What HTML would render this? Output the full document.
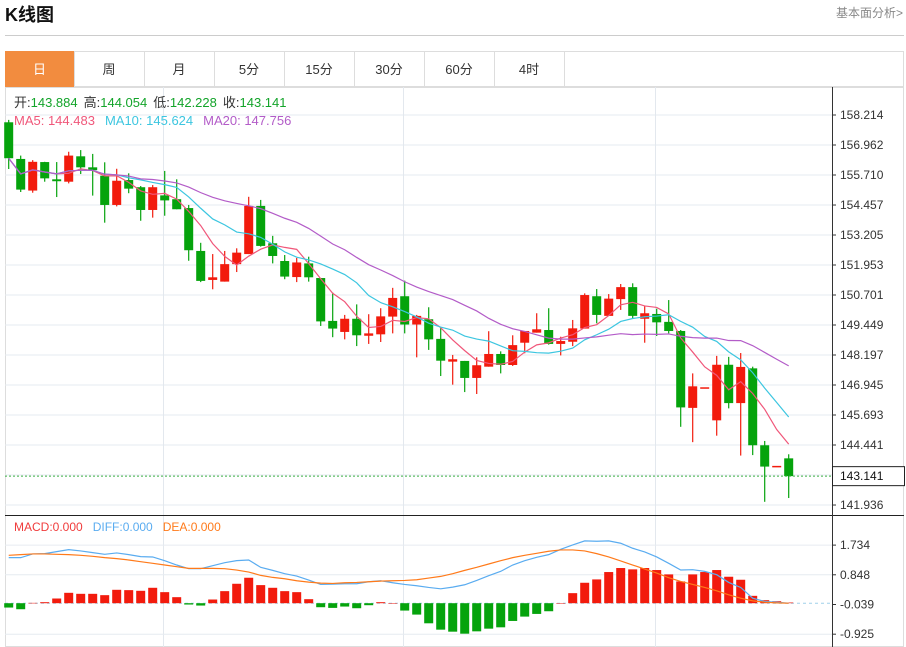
<!DOCTYPE html>
<html><head><meta charset="utf-8"><style>
body{margin:0;background:#fff;font-family:"Liberation Sans","Noto Sans CJK SC",sans-serif;}
#wrap{position:relative;width:906px;height:647px;overflow:hidden;}
svg text{font-family:"Liberation Sans","Noto Sans CJK SC",sans-serif;}
</style></head><body>
<div id="wrap">
<svg id="svg" width="906" height="647" viewBox="0 0 906 647">
<text x="5" y="21" font-size="18" font-weight="bold" fill="#111">K线图</text>
<text x="903" y="17" font-size="12" fill="#888" text-anchor="end">基本面分析&gt;</text>
<line x1="5" y1="35.5" x2="904" y2="35.5" stroke="#ccc"/>
<g id="tabs"></g>
<g id="grid"></g>
<g id="main"></g>
<g id="macd"></g>
<g id="axis"></g>
<g id="info">
<text x="14" y="107" font-size="13"><tspan fill="#333">开:</tspan><tspan fill="#13a42a">143.884</tspan><tspan fill="#333" dx="6">高:</tspan><tspan fill="#13a42a">144.054</tspan><tspan fill="#333" dx="6">低:</tspan><tspan fill="#13a42a">142.228</tspan><tspan fill="#333" dx="6">收:</tspan><tspan fill="#13a42a">143.141</tspan></text>
<text x="14" y="125" font-size="13"><tspan fill="#f0577a">MA5: 144.483</tspan><tspan fill="#3cc6e0" dx="10">MA10: 145.624</tspan><tspan fill="#b35cc8" dx="10">MA20: 147.756</tspan></text>
<text x="14" y="531" font-size="12"><tspan fill="#f03c3c">MACD:0.000</tspan><tspan fill="#5aacf0" dx="10">DIFF:0.000</tspan><tspan fill="#ff7a1a" dx="10">DEA:0.000</tspan></text>
</g>
</svg>
</div>
<script>
const opens=[157.91,156.38,155.06,156.25,155.53,155.43,156.49,156.03,155.68,154.46,155.50,155.20,154.25,154.86,154.70,154.33,152.54,151.33,151.26,151.99,152.41,154.42,152.86,152.12,151.45,152.02,151.41,149.62,149.16,149.71,149.00,149.06,149.80,150.65,149.47,149.69,148.87,147.92,147.95,147.24,147.71,148.24,147.78,148.71,149.13,149.24,148.66,148.75,149.30,150.65,149.83,150.53,151.03,149.71,149.91,149.58,149.20,145.99,146.85,145.47,147.79,146.19,147.64,144.43,143.57,143.884];
const closes=[156.41,155.10,156.26,155.57,155.45,156.52,156.03,155.91,154.46,155.47,155.14,154.25,155.20,154.65,154.28,152.57,151.29,151.44,151.99,152.47,154.42,152.75,152.33,151.47,152.06,151.44,149.60,149.30,149.71,149.02,149.10,149.81,150.58,149.47,149.83,148.85,147.96,148.02,147.24,147.77,148.24,147.78,148.61,149.20,149.27,148.66,148.78,149.31,150.70,149.87,150.55,151.03,149.83,149.94,149.56,149.20,146.01,146.89,146.85,147.79,146.19,147.70,144.43,143.54,143.57,143.141];
const highs=[158.01,156.52,156.33,156.26,156.25,156.68,156.75,156.59,156.24,155.97,155.78,155.25,155.29,155.88,155.53,154.46,152.88,152.41,152.54,152.65,154.80,154.67,153.17,152.37,152.25,152.30,151.41,150.80,149.87,150.31,149.90,150.15,151.00,151.30,149.87,150.19,149.32,148.20,147.95,148.10,149.19,148.35,149.02,149.20,149.94,150.15,148.96,149.66,150.77,150.95,150.74,151.16,151.19,150.24,150.13,150.49,149.24,147.43,146.85,148.16,148.12,148.28,147.71,144.61,143.57,144.054];
const lows=[155.96,155.00,154.97,155.43,154.79,155.36,155.75,154.85,153.72,154.40,154.95,153.80,153.93,154.01,154.28,152.13,151.24,150.94,151.26,151.66,152.41,152.72,152.02,151.36,151.24,151.26,149.41,148.94,148.85,148.57,148.66,148.74,149.10,149.10,148.10,148.41,147.32,146.96,146.65,146.57,147.71,147.43,147.74,148.27,149.13,148.63,148.18,148.57,149.30,149.52,149.83,150.08,149.71,148.71,148.99,149.10,145.20,144.56,146.85,144.83,145.97,144.00,144.02,142.07,143.57,142.228];
const macdBars=[-0.13,-0.18,0.01,0.03,0.14,0.31,0.28,0.28,0.24,0.40,0.39,0.37,0.46,0.33,0.18,-0.04,-0.07,0.11,0.36,0.58,0.76,0.54,0.46,0.36,0.33,0.12,-0.12,-0.14,-0.10,-0.15,-0.06,0.03,0,-0.22,-0.34,-0.60,-0.79,-0.85,-0.91,-0.84,-0.76,-0.72,-0.53,-0.40,-0.32,-0.24,0,0.30,0.61,0.71,0.93,1.05,1.01,1.05,0.99,0.86,0.65,0.86,0.93,0.99,0.79,0.70,0.22,0.09,0.06,0.02];
const diffVals=[1.36,1.36,1.47,1.48,1.54,1.60,1.56,1.51,1.46,1.50,1.45,1.39,1.38,1.27,1.14,1.03,1.03,1.12,1.21,1.27,1.29,1.07,0.98,0.88,0.81,0.69,0.56,0.57,0.58,0.58,0.64,0.67,0.61,0.56,0.52,0.47,0.43,0.48,0.55,0.68,0.82,0.95,1.14,1.27,1.37,1.45,1.61,1.74,1.86,1.85,1.86,1.79,1.64,1.53,1.38,1.19,0.99,1.00,0.95,0.85,0.62,0.47,0.15,0.05,0.03,0.00];
const deaVals=[1.43,1.45,1.47,1.47,1.46,1.45,1.43,1.40,1.36,1.33,1.29,1.24,1.19,1.14,1.09,1.04,1.04,1.04,1.03,0.99,0.93,0.83,0.77,0.73,0.67,0.63,0.60,0.59,0.61,0.62,0.64,0.66,0.67,0.68,0.70,0.75,0.80,0.88,0.98,1.07,1.17,1.27,1.36,1.43,1.49,1.55,1.59,1.59,1.56,1.48,1.38,1.26,1.14,1.02,0.90,0.76,0.65,0.56,0.47,0.37,0.25,0.15,0.07,0.03,0.01,0.00];
const priceTicks=[158.214,156.962,155.710,154.457,153.205,151.953,150.701,149.449,148.197,146.945,145.693,144.441,141.936];
const macdTicks=[1.734,0.848,-0.039,-0.925];
const tabLabels=["日","周","月","5分","15分","30分","60分","4时"];
const lastPrice=143.141;

const NS="http://www.w3.org/2000/svg";
function mk(tag,attrs,parent){const e=document.createElementNS(NS,tag);for(const k in attrs)e.setAttribute(k,attrs[k]);parent.appendChild(e);return e;}
const xs=i=>8.7+12*i;
const yp=p=>115+(158.214-p)*23.96;
const ym=v=>603.2-v*33.5;
const RED="#f21b0d",GREEN="#05a30c";

// tabs
const tabs=document.getElementById('tabs');
mk('rect',{x:5.5,y:51.5,width:898,height:35,fill:'#fff',stroke:'#ddd'},tabs);
tabLabels.forEach((t,i)=>{
  const x0=i===0?5:4+70*i, x1=4+70*(i+1);
  const r=mk('rect',{x:x0+0.5,y:51.5,width:x1-x0,height:35,fill:i===0?'#f28c3f':'#fff',stroke:i===0?'#f28c3f':'#ddd'},tabs);
  
  
  const tx=mk('text',{x:(x0+x1)/2,y:74,'font-size':13,'text-anchor':'middle',fill:i===0?'#fff':'#333'},tabs);
  tx.textContent=t;
  
  
});

// grid & frame
const grid=document.getElementById('grid');
mk('rect',{x:5.5,y:87.5,width:898,height:559,fill:'none',stroke:'#ddd'},grid);
priceTicks.forEach(p=>{mk('line',{x1:5,x2:832,y1:yp(p),y2:yp(p),stroke:'#e6ebf0'},grid);});
mk('line',{x1:5,x2:832,y1:yp(143.189),y2:yp(143.189),stroke:'#e6ebf0'},grid);
[163.5,403.5,655.5].forEach(x=>{mk('line',{x1:x,x2:x,y1:87,y2:647,stroke:'#e3e8ee'},grid);});
mk('line',{x1:5,x2:904,y1:515.5,y2:515.5,stroke:'#222'},grid);
macdTicks.forEach((v,i)=>{if(i!==2)mk('line',{x1:5,x2:832,y1:ym(v),y2:ym(v),stroke:'#e6ebf0'},grid);});
mk('line',{x1:5,x2:832,y1:ym(0),y2:ym(0),stroke:'#9fd0ea','stroke-dasharray':'3,3'},grid);

// candles
const main=document.getElementById('main');
for(let i=0;i<closes.length;i++){
  const up=closes[i]>=opens[i];const c=up?RED:GREEN;const x=xs(i);
  const w=mk('line',{x1:x,x2:x,y1:yp(highs[i]),y2:yp(lows[i]),stroke:c,'stroke-width':1.2},main);
  
  
  const top=yp(Math.max(opens[i],closes[i])),bot=yp(Math.min(opens[i],closes[i]));
  const b=mk('rect',{x:x-4.5,y:top,width:9,height:Math.max(1.5,bot-top),fill:c},main);
  
  
}
function ma(n){return closes.map((_,i)=>{const s=Math.max(0,i-n+1);const a=closes.slice(s,i+1);return a.reduce((p,q)=>p+q,0)/a.length;});}
[[5,'#f0577a'],[10,'#3cc6e0'],[20,'#b35cc8']].forEach(([n,c])=>{
  const v=ma(n);
  const l=mk('polyline',{points:v.map((p,i)=>xs(i)+','+yp(p)).join(' '),fill:'none',stroke:c,'stroke-width':1.2},main);
  
  
});
mk('line',{x1:5,x2:832,y1:yp(lastPrice),y2:yp(lastPrice),stroke:'#3cb043','stroke-dasharray':'2,2'},main);

// macd
const mg=document.getElementById('macd');
macdBars.forEach((v,i)=>{
  const y0=ym(0),y1=ym(v);
  const r=mk('rect',{x:xs(i)-4.5,y:Math.min(y0,y1),width:9,height:Math.max(0.5,Math.abs(y1-y0)),fill:v>=0?RED:GREEN},mg);
  
  
});
[[diffVals,'#5aacf0','diff-line'],[deaVals,'#ff7a1a','dea-line']].forEach(([arr,c,n])=>{
  const l=mk('polyline',{points:arr.map((v,i)=>xs(i)+','+ym(v)).join(' '),fill:'none',stroke:c,'stroke-width':1.2},mg);
  
  
});

// axis
const ax=document.getElementById('axis');
mk('line',{x1:832.5,x2:832.5,y1:87,y2:647,stroke:'#333'},ax);
priceTicks.forEach(p=>{
  mk('line',{x1:832,x2:836,y1:yp(p),y2:yp(p),stroke:'#333'},ax);
  const t=mk('text',{x:840,y:yp(p)+4,'font-size':12,fill:'#333'},ax);
  t.textContent=p.toFixed(3);
  
  
});
macdTicks.forEach(v=>{
  mk('line',{x1:832,x2:836,y1:ym(v),y2:ym(v),stroke:'#333'},ax);
  const t=mk('text',{x:840,y:ym(v)+4,'font-size':12,fill:'#333'},ax);
  t.textContent=v.toFixed(3);
  
  
});
mk('rect',{x:832.5,y:yp(lastPrice)-9.5,width:72,height:19,fill:'#fff',stroke:'#222'},ax);
const lp=mk('text',{x:840,y:yp(lastPrice)+4,'font-size':12,fill:'#111'},ax);
lp.textContent=lastPrice.toFixed(3);


</script>
</body></html>
